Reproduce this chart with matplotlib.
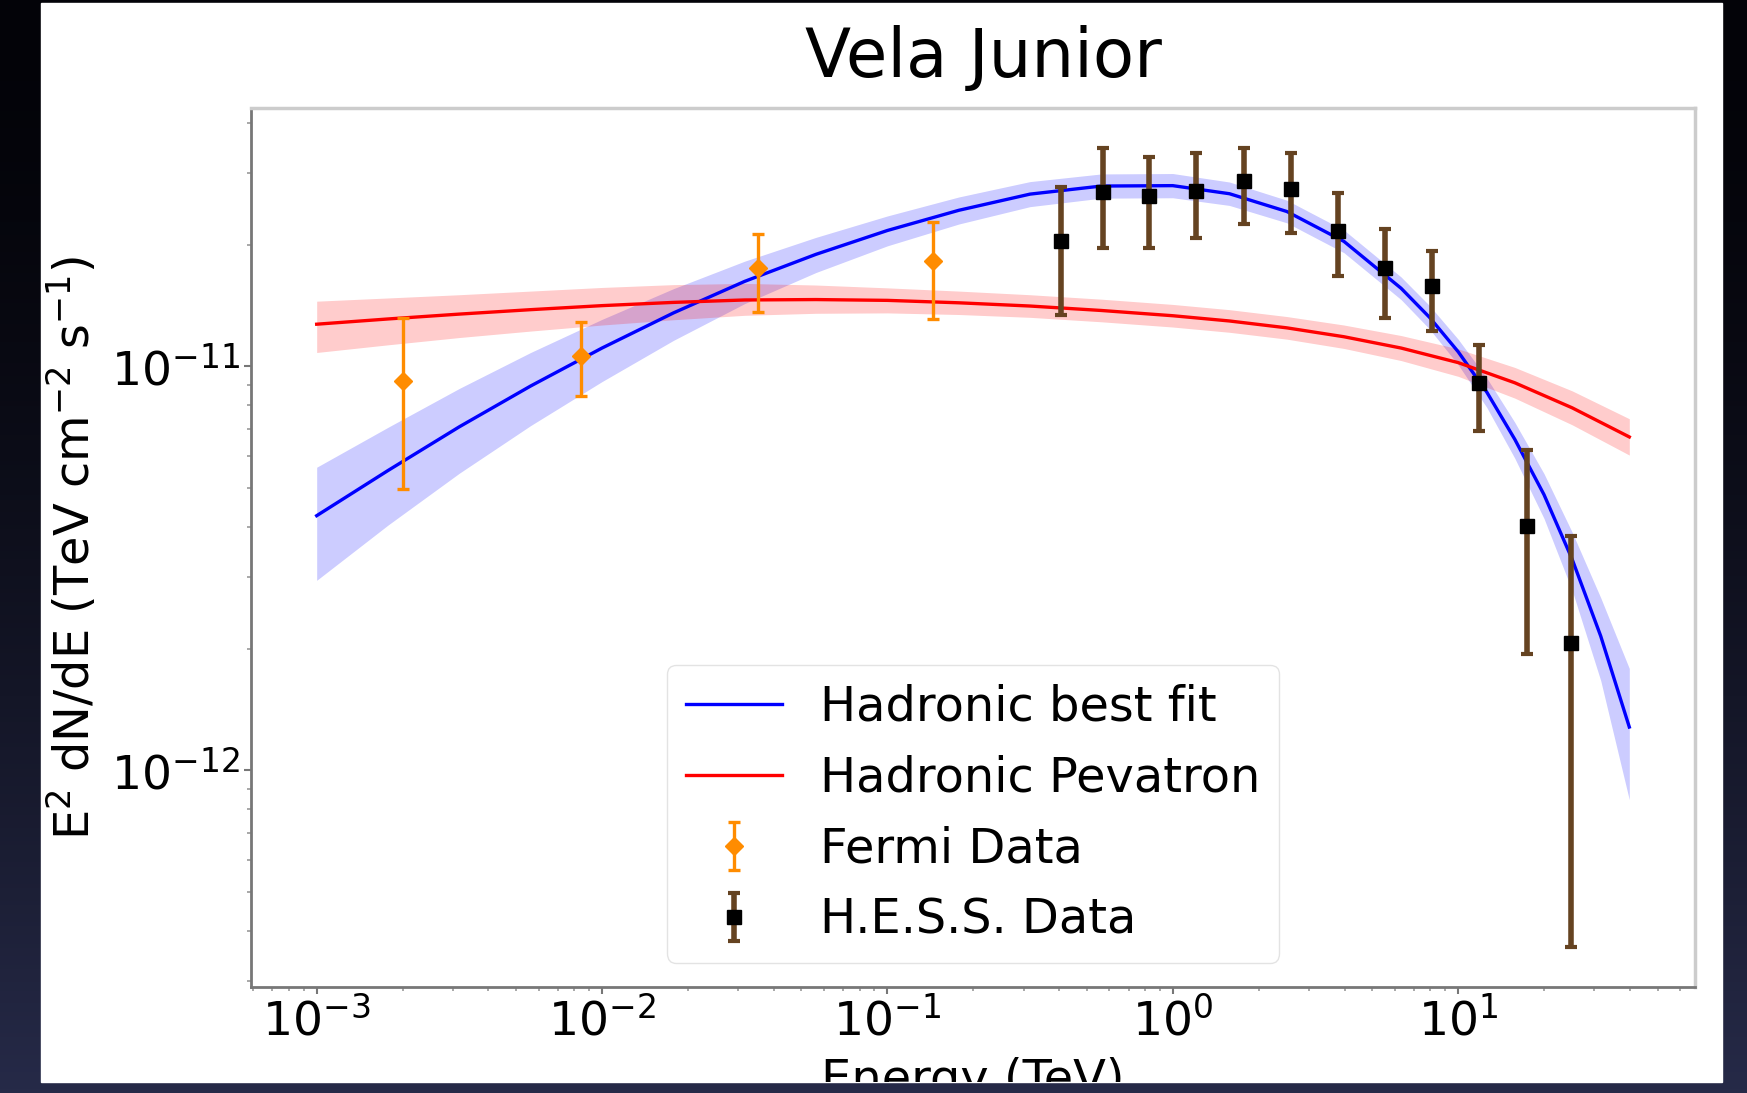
import numpy as np
import matplotlib
matplotlib.use('Agg')
import matplotlib.pyplot as plt
from matplotlib.patches import Rectangle
from matplotlib.transforms import Bbox, TransformedBbox

# hadronic best fit (energy in TeV, E^2 dN/dE in 1e-11 TeV cm^-2 s^-1)
blue_E = [0.001, 0.00178, 0.00316, 0.00562, 0.01, 0.0178, 0.0316, 0.0562, 0.1,
          0.178, 0.316, 0.562, 1.0, 1.58, 2.51, 3.98, 6.31, 7.94, 10.0, 12.6,
          15.8, 20.0, 25.1, 31.6, 39.8]
blue_mid = [0.4266, 0.5521, 0.7079, 0.8933, 1.1092, 1.3552, 1.6218, 1.8923, 2.1677,
            2.4322, 2.6669, 2.7925, 2.7990, 2.6730, 2.4155, 2.0370, 1.5596, 1.3213,
            1.0864, 0.8630, 0.6592, 0.4808, 0.3327, 0.2148, 0.1279]
blue_hi = [0.5623, 0.7063, 0.8810, 1.0814, 1.3062, 1.5560, 1.8197, 2.0845, 2.3550,
           2.6242, 2.8642, 2.9923, 2.9992, 2.8576, 2.5763, 2.1727, 1.6634, 1.4125,
           1.1668, 0.9354, 0.7261, 0.5420, 0.3882, 0.2673, 0.1786]
blue_lo = [0.2951, 0.4046, 0.5433, 0.7129, 0.9162, 1.1588, 1.4289, 1.7061, 1.9861,
           2.2491, 2.4831, 2.6062, 2.6122, 2.5003, 2.2646, 1.9099, 1.4622, 1.2359,
           1.0093, 0.7907, 0.5916, 0.4198, 0.2786, 0.1667, 0.0845]

# hadronic pevatron
red_E = [0.001, 0.00178, 0.00316, 0.00562, 0.01, 0.0178, 0.0316, 0.0562, 0.1,
         0.178, 0.316, 0.562, 1.0, 1.58, 2.51, 3.98, 6.31, 10.0, 15.8, 25.1, 39.8]
red_mid = [1.2706, 1.3092, 1.3459, 1.3804, 1.4125, 1.4388, 1.4588, 1.4622, 1.4555,
           1.4355, 1.4093, 1.3740, 1.3335, 1.2942, 1.2445, 1.1830, 1.1092, 1.0209,
           0.9099, 0.7889, 0.6683]
red_hi = [1.4488, 1.4757, 1.5031, 1.5346, 1.5668, 1.5922, 1.6032, 1.5885, 1.5631,
          1.5346, 1.5031, 1.4655, 1.4223, 1.3804, 1.3274, 1.2647, 1.1912, 1.1041,
          0.9931, 0.8690, 0.7413]
red_lo = [1.0814, 1.1298, 1.1776, 1.2218, 1.2647, 1.3032, 1.3366, 1.3521, 1.3552,
          1.3428, 1.3213, 1.2882, 1.2503, 1.2134, 1.1668, 1.1066, 1.0328, 0.9441,
          0.8337, 0.7161, 0.6026]

# Fermi points
fermi_E = [0.00201, 0.00847, 0.0353, 0.145]
fermi_F = [0.917, 1.06, 1.75, 1.82]
fermi_hi = [1.32, 1.29, 2.13, 2.28]
fermi_lo = [0.496, 0.845, 1.36, 1.31]

# H.E.S.S. points
hess_E = [0.406, 0.569, 0.824, 1.21, 1.77, 2.59, 3.79, 5.53, 8.09, 11.8, 17.4, 24.9]
hess_F = [2.04, 2.70, 2.64, 2.71, 2.87, 2.75, 2.16, 1.75, 1.58, 0.911, 0.403, 0.207]
hess_hi = [2.77, 3.47, 3.30, 3.37, 3.47, 3.37, 2.69, 2.18, 1.93, 1.13, 0.619, 0.379]
hess_lo = [1.34, 1.96, 1.96, 2.08, 2.25, 2.14, 1.67, 1.32, 1.22, 0.692, 0.194, 0.0365]

unit = 1e-11

fig = plt.figure(figsize=(17.47, 10.93), dpi=100)

# slide background with the white picture on it
bg = fig.add_axes([0, 0, 1, 1], zorder=-10)
grad = np.linspace(0, 1, 256)[:, None] ** 1.6
top = np.array([3, 3, 8]) / 255.0
bot = np.array([38, 42, 72]) / 255.0
img = top + grad[..., None] * (bot - top)
img = np.repeat(img, 2, axis=1)
bg.imshow(img, aspect='auto', extent=[0, 1, 0, 1], origin='upper')
panel = [0.0235, 0.0101, 0.9857, 0.9973]
bg.add_patch(Rectangle((panel[0], panel[1]), panel[2] - panel[0], panel[3] - panel[1],
                       color='white', zorder=2))
bg.set_xlim(0, 1)
bg.set_ylim(0, 1)
bg.axis('off')

ax = fig.add_axes([0.1437, 0.0970, 0.8265, 0.8042])
ax.set_xscale('log')
ax.set_yscale('log')

bE = np.array(blue_E)
rE = np.array(red_E)
ax.fill_between(bE, np.array(blue_lo) * unit, np.array(blue_hi) * unit,
                color='blue', alpha=0.2, lw=0)
ax.plot(bE, np.array(blue_mid) * unit, color='blue', lw=2.4, label='Hadronic best fit')
ax.fill_between(rE, np.array(red_lo) * unit, np.array(red_hi) * unit,
                color='red', alpha=0.2, lw=0)
ax.plot(rE, np.array(red_mid) * unit, color='red', lw=2.4, label='Hadronic Pevatron')

fF = np.array(fermi_F) * unit
ax.errorbar(fermi_E, fF, yerr=[fF - np.array(fermi_lo) * unit, np.array(fermi_hi) * unit - fF],
            fmt='D', color='darkorange', ms=9, elinewidth=2.4, capsize=4, capthick=2.4,
            label='Fermi Data')
hF = np.array(hess_F) * unit
ax.errorbar(hess_E, hF, yerr=[hF - np.array(hess_lo) * unit, np.array(hess_hi) * unit - hF],
            fmt='s', color='black', ecolor='#654321', ms=10, elinewidth=4, capsize=4,
            capthick=3, label='H.E.S.S. Data')

ax.set_title('Vela Junior', fontsize=48.5, pad=22, x=0.507)
ax.set_ylabel(r'E$^2$ dN/dE (TeV cm$^{-2}$ s$^{-1}$)', fontsize=34.5, labelpad=8)
xl = ax.set_xlabel('Energy (TeV)', fontsize=34.5, labelpad=8)
xl.set_clip_box(TransformedBbox(Bbox([[panel[0], panel[1]], [panel[2], panel[3]]]),
                                fig.transFigure))
xl.set_clip_on(True)

ax.tick_params(which='major', labelsize=34, length=5, width=1.5, color='#777777', pad=3)
ax.tick_params(which='minor', length=3, width=1.2, color='#999999')
for s in ['left', 'bottom']:
    ax.spines[s].set_color('#777777')
    ax.spines[s].set_linewidth(2)
for s in ['top', 'right']:
    ax.spines[s].set_color('#cccccc')
    ax.spines[s].set_linewidth(2.5)

leg = ax.legend(loc='lower center', fontsize=34.5, edgecolor='#dddddd')

fig.savefig('out.png', dpi=100)
